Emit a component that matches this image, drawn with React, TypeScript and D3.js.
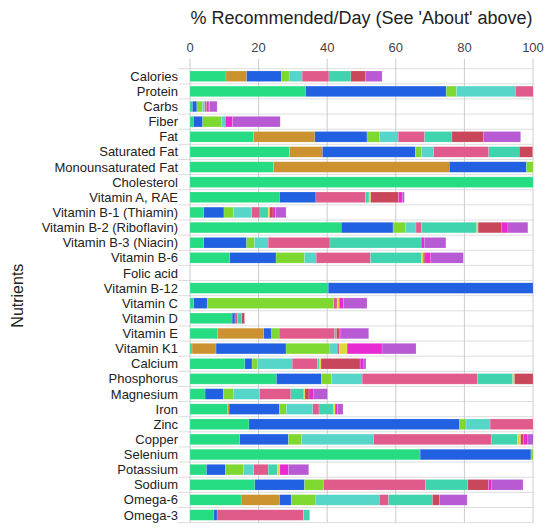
import { useEffect, useRef } from 'react';
import * as d3 from 'd3';

const nutrients = [
  'Calories', 'Protein', 'Carbs', 'Fiber', 'Fat', 'Saturated Fat', 'Monounsaturated Fat',
  'Cholesterol', 'Vitamin A, RAE', 'Vitamin B-1 (Thiamin)', 'Vitamin B-2 (Riboflavin)',
  'Vitamin B-3 (Niacin)', 'Vitamin B-6', 'Folic acid', 'Vitamin B-12', 'Vitamin C',
  'Vitamin D', 'Vitamin E', 'Vitamin K1', 'Calcium', 'Phosphorus', 'Magnesium', 'Iron',
  'Zinc', 'Copper', 'Selenium', 'Potassium', 'Sodium', 'Omega-6', 'Omega-3',
];

const xTicks = [0, 20, 40, 60, 80, 100];

// one array per food, in stack order, values in % recommended/day
const food1 = [10.5, 33.7, 0.7, 1.0, 18.5, 29.0, 24.4, 100, 26.1, 4.0, 44.1, 4.0, 11.6, 0, 40.3, 1.1, 12.3, 8.1, 0.6, 16.0, 25.2, 4.4, 11.0, 17.2, 14.5, 67.1, 4.8, 18.9, 14.9, 7.0];
const food2 = [6.0, 0, 0, 0, 17.9, 9.6, 51.2, 0, 0, 0, 0, 0, 0, 0, 0, 0, 0, 13.4, 7.0, 0, 0, 0, 0.4, 0, 0, 0, 0, 0, 11.2, 0];
const food3 = [10.1, 41.0, 1.3, 2.7, 15.2, 27.1, 22.5, 0, 10.6, 5.9, 15.1, 12.5, 13.5, 0, 59.7, 3.9, 0.8, 2.3, 20.4, 2.1, 13.1, 5.3, 14.7, 61.4, 14.2, 32.3, 5.5, 14.5, 3.4, 0.9];
const food4 = [2.3, 3.0, 1.6, 5.4, 3.6, 1.8, 1.9, 0, 0, 2.8, 3.7, 2.3, 8.3, 0, 0, 36.9, 0, 2.2, 12.8, 1.5, 3.0, 2.9, 2.0, 1.9, 3.8, 0.6, 5.3, 5.5, 7.2, 0];
const food5 = [3.8, 17.2, 0.7, 1.2, 5.5, 3.5, 0, 0, 0, 5.3, 3.0, 4.0, 3.4, 0, 0, 0, 0, 0, 2.1, 10.2, 8.9, 7.7, 7.7, 7.0, 21.0, 0, 3.0, 0, 18.5, 0];
const food6 = [7.8, 5.2, 0.6, 0, 7.7, 16.1, 0, 0, 14.5, 2.4, 1.6, 18.0, 15.8, 0, 0, 1.0, 0.7, 16.2, 0.6, 7.3, 33.6, 9.1, 1.8, 12.5, 34.3, 0, 4.2, 29.8, 2.7, 25.2];
const food7 = [6.4, 0, 0, 0, 8.0, 8.9, 0, 0, 1.0, 2.4, 16.1, 26.6, 14.9, 0, 0, 0, 1.3, 0.5, 0, 0.7, 10.3, 3.8, 4.3, 0, 7.7, 0, 2.7, 12.3, 12.8, 1.8];
const food8 = [0, 0, 0, 0, 0, 0, 0, 0, 0.5, 0.4, 0.4, 0, 0.5, 0, 0, 0.6, 0, 0, 2.3, 0.4, 0.5, 0.3, 0.4, 0, 0.9, 0, 0.7, 0, 0, 0];
const food9 = [4.2, 0, 0.4, 0, 9.1, 3.9, 0, 0, 8.1, 1.0, 6.9, 0, 0.5, 0, 0, 0, 0.8, 0.8, 0, 11.4, 5.4, 1.2, 0, 0, 0.9, 0, 0, 6.0, 2.0, 0];
const food10 = [0, 0, 0.4, 2.1, 0, 0, 0, 0, 1.1, 0.7, 1.8, 0.9, 1.7, 0, 0, 1.3, 0, 0.5, 10.2, 1.1, 0, 1.4, 0.7, 0, 1.2, 0, 2.5, 1.0, 0, 0];
const food11 = [4.9, 0, 2.2, 13.9, 10.9, 0, 0, 0, 0.6, 3.1, 5.8, 6.3, 9.5, 0, 0, 6.8, 0, 8.1, 9.9, 0.6, 0, 4.0, 1.6, 0, 1.6, 0, 5.9, 9.1, 8.1, 0];

const foods = [food1, food2, food3, food4, food5, food6, food7, food8, food9, food10, food11];

const palette = [
  '#26dc82', '#cc9230', '#2160e0', '#7ed82f', '#55d6c8', '#e05a8c',
  '#40d4ae', '#e0d83a', '#c8475a', '#e82ad2', '#b85ad4',
];

const W = 552;
const H = 529;

export default function App() {
  const svgRef = useRef<SVGSVGElement>(null);

  useEffect(() => {
    if (!svgRef.current) return;
    const svg = d3.select(svgRef.current);
    svg.selectAll('*').remove();

    const margin = { top: 68.7, right: 19, bottom: 6.4, left: 190 };
    const font = 'Arial, "Liberation Sans", sans-serif';

    const x = d3.scaleLinear().domain([0, 100]).range([margin.left, W - margin.right]);
    const y = d3.scaleBand<string>()
      .domain(nutrients)
      .range([margin.top, H - margin.bottom])
      .paddingInner(0.3)
      .paddingOuter(0.15);

    const step = y.step();
    const bandTop = (n: string) => (y(n) as number) - y.paddingInner() * step / 2;

    svg.append('rect').attr('width', W).attr('height', H).attr('fill', '#fff');

    // horizontal row lines
    const rowLines = nutrients.map(bandTop).concat([H - margin.bottom]);
    svg.append('g')
      .selectAll('line')
      .data(rowLines)
      .join('line')
      .attr('x1', margin.left - 12)
      .attr('x2', x(100))
      .attr('y1', d => d)
      .attr('y2', d => d)
      .attr('stroke', '#ddd')
      .attr('stroke-width', 1);

    // vertical grid
    svg.append('g')
      .selectAll('line')
      .data(xTicks)
      .join('line')
      .attr('x1', d => x(d))
      .attr('x2', d => x(d))
      .attr('y1', margin.top - 10)
      .attr('y2', H - margin.bottom)
      .attr('stroke', '#ccc')
      .attr('stroke-width', 1);

    // stacked segments, clipped at 100%
    const defs = svg.append('defs');
    defs.append('clipPath').attr('id', 'plotclip')
      .append('rect')
      .attr('x', x(0)).attr('y', 0)
      .attr('width', x(100) - x(0)).attr('height', H);

    const rows = nutrients.map((n, i) => {
      const row: Record<string, number | string> = { name: n };
      foods.forEach((f, k) => { row['f' + k] = f[i]; });
      return row;
    });
    const stack = d3.stack<Record<string, number | string>>()
      .keys(foods.map((_, k) => 'f' + k))
      .value((d, key) => d[key] as number);
    const series = stack(rows);

    const bars = svg.append('g').attr('clip-path', 'url(#plotclip)');
    series.forEach((s, k) => {
      bars.append('g')
        .attr('fill', palette[k])
        .selectAll('rect')
        .data(s.filter(d => d[1] - d[0] > 0))
        .join('rect')
        .attr('x', d => x(d[0]))
        .attr('y', d => y(d.data.name as string) as number)
        .attr('width', d => x(d[1]) - x(d[0]))
        .attr('height', y.bandwidth())
        .attr('stroke', '#fff')
        .attr('stroke-opacity', 0.25)
        .attr('stroke-width', 0.6);
    });

    // top axis labels
    svg.append('g')
      .selectAll('text')
      .data(xTicks)
      .join('text')
      .attr('x', d => x(d))
      .attr('y', 52)
      .attr('text-anchor', 'middle')
      .attr('fill', '#444')
      .attr('font-family', font)
      .attr('font-size', '13px')
      .text(d => d);

    // nutrient labels
    svg.append('g')
      .selectAll('text')
      .data(nutrients)
      .join('text')
      .attr('x', margin.left - 12)
      .attr('y', d => (y(d) as number) + y.bandwidth() / 2)
      .attr('dy', '0.35em')
      .attr('text-anchor', 'end')
      .attr('fill', '#222')
      .attr('font-family', font)
      .attr('font-size', '13px')
      .text(d => d);

    svg.append('text')
      .attr('x', x(50))
      .attr('y', 24)
      .attr('text-anchor', 'middle')
      .attr('fill', '#222')
      .attr('font-family', font)
      .attr('font-size', '18px')
      .text("% Recommended/Day (See 'About' above)");

    svg.append('text')
      .attr('transform', `translate(23, ${(margin.top + H - margin.bottom) / 2}) rotate(-90)`)
      .attr('text-anchor', 'middle')
      .attr('fill', '#222')
      .attr('font-family', font)
      .attr('font-size', '16px')
      .text('Nutrients');
  }, []);

  return (
    <svg
      ref={svgRef}
      width={W}
      height={H}
      style={{ position: 'absolute', left: 0, top: 0 }}
    />
  );
}
